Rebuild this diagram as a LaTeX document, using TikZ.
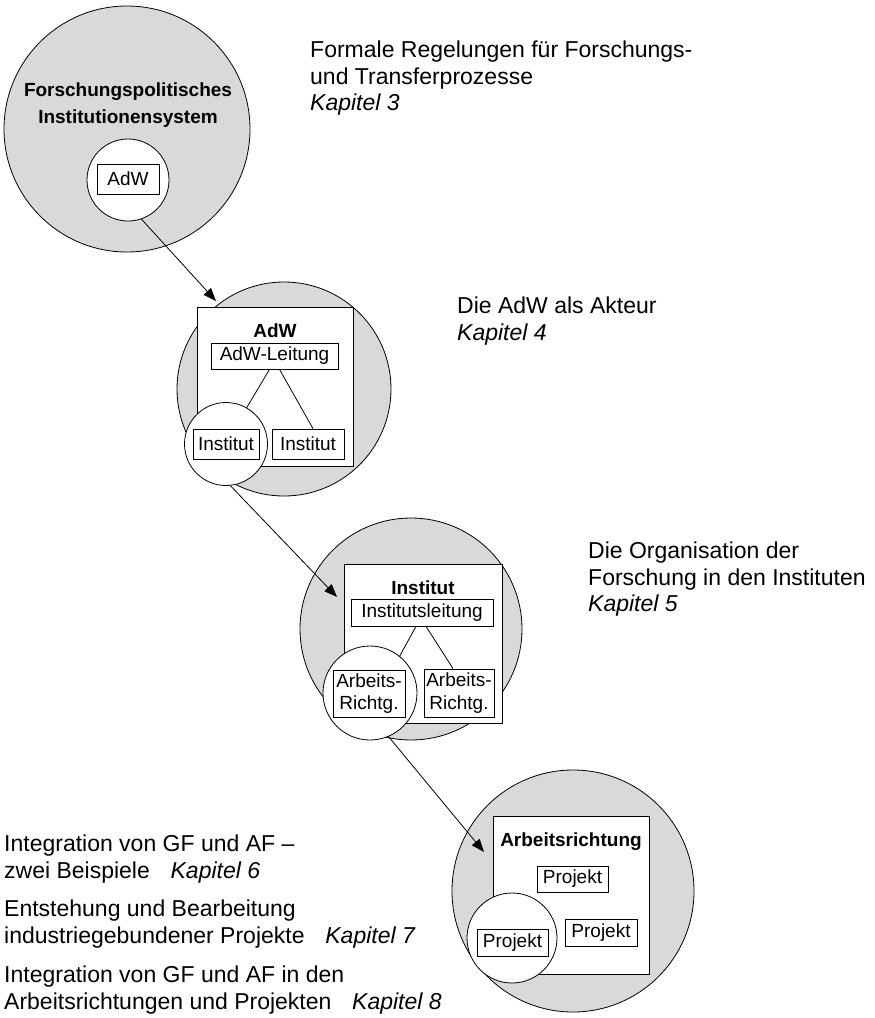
\documentclass[tikz,border=0pt]{standalone}
\usepackage{fontspec}
\setmainfont{Liberation Sans}
\usepackage{tikz}
\usetikzlibrary{arrows.meta}
\definecolor{ringgray}{gray}{0.85}
\tikzset{
  field/.style={circle, draw, line width=0.8pt, fill=ringgray, inner sep=0pt},
  focus/.style={circle, draw, line width=0.8pt, fill=white, inner sep=0pt},
  unit/.style={draw, line width=0.8pt, fill=white, inner sep=0pt},
  tag/.style={draw, line width=0.8pt, fill=white, inner sep=0pt, align=center, font=\fontsize{19}{22.5}\selectfont},
  head/.style={inner sep=0pt, align=center, font=\bfseries\fontsize{19}{27}\selectfont},
  note/.style={anchor=north west, align=left, inner sep=0pt, font=\fontsize{23}{26.5}\selectfont},
  link/.style={line width=0.8pt, -{Triangle[length=13pt, width=10pt]}}
}

\begin{document}
\begin{tikzpicture}[x=1pt, y=-1pt]
  \useasboundingbox (0,0) rectangle (875,1018);

  % grey level circles
  \node[field, minimum size=246pt] (sys) at (127,129) {};
  \node[field, minimum size=214pt] (acad) at (284,389) {};
  \node[field, minimum size=222pt] (inst) at (411,629) {};
  \node[field, minimum size=242pt] (dept) at (573,891) {};

  % white frames
  \node[unit, minimum width=156pt, minimum height=159pt] (acadbox) at (275,386.5) {};
  \node[unit, minimum width=158pt, minimum height=159pt] (instbox) at (423,643.5) {};
  \node[unit, minimum width=156pt, minimum height=158pt] (deptbox) at (571,895) {};

  \node[head] (syshead) at (128,105) {Forschungspolitisches\\Institutionensystem};
  \node[head] (acadhead) at (275,331) {AdW};
  \node[head] (insthead) at (423,588) {Institut};
  \node[head] (depthead) at (571,842) {Arbeitsrichtung};

  \node[tag, minimum width=127pt, minimum height=26pt] (acadlead) at (274.5,356) {AdW-Leitung};
  \node[tag, minimum width=142pt, minimum height=27pt] (instlead) at (422,612.5) {Institutsleitung};

  \node[tag, minimum width=72pt, minimum height=30pt] (instR) at (308,444) {Institut};
  \node[tag, minimum width=70pt, minimum height=48pt] (arbR) at (459,693) {Arbeits-\\Richtg.};

  % tree lines, the left ends run under the white circles
  \coordinate (instLtop) at (234,429);
  \coordinate (arbLtop) at (392,670);
  \draw[line width=0.8pt] ([xshift=-5pt]acadlead.south) -- (instLtop);
  \draw[line width=0.8pt] ([xshift=5pt]acadlead.south) -- ([xshift=5pt]instR.north);
  \draw[line width=0.8pt] ([xshift=-6pt]instlead.south) -- (arbLtop);
  \draw[line width=0.8pt] ([xshift=4pt]instlead.south) -- ([xshift=-6pt]arbR.north);

  % white focus circles
  \node[focus, minimum size=82pt] (f1) at (128,180) {};
  \node[focus, minimum size=83pt] (f2) at (226,444) {};
  \node[focus, minimum size=94pt] (f3) at (370,693) {};
  \node[focus, minimum size=90pt] (f4) at (512,938) {};

  \node[tag, minimum width=62pt, minimum height=30pt] (adw) at (128,179) {AdW};
  \node[tag, minimum width=66pt, minimum height=30pt] (instL) at (226,444) {Institut};
  \node[tag, minimum width=72pt, minimum height=47pt] (arbL) at (369,693.5) {Arbeits-\\Richtg.};
  \node[tag, minimum width=71pt, minimum height=26pt] (projT) at (572.5,879) {Projekt};
  \node[tag, minimum width=72pt, minimum height=27pt] (projR) at (601,932.5) {Projekt};
  \node[tag, minimum width=71pt, minimum height=27pt] (projL) at (512.5,942.5) {Projekt};

  % zoom arrows
  \coordinate (in2) at (216,301);
  \coordinate (in3) at (337,597);
  \coordinate (in4) at (484,852);
  \draw[link] (f1.-71) -- (in2);
  \draw[link] (f2.-84) -- (in3);
  \draw[link] (f3.-67) -- (in4);

  % chapter notes
  \node[note] (n3) at (310,41) {Formale Regelungen für Forschungs-\\und Transferprozesse\\\textit{Kapitel 3}};
  \node[note] (n4) at (457,297) {Die AdW als Akteur\\\textit{Kapitel 4}};
  \node[note] (n5) at (588,542) {Die Organisation der\\Forschung in den Instituten\\\textit{Kapitel 5}};
  \node[note] (n6) at (4,835) {Integration von GF und AF –\\zwei Beispiele\hspace{0.9em}\textit{Kapitel 6}};
  \node[note] (n7) at (4,900) {Entstehung und Bearbeitung\\industriegebundener Projekte\hspace{0.9em}\textit{Kapitel 7}};
  \node[note] (n8) at (4,966) {Integration von GF und AF in den\\Arbeitsrichtungen und Projekten\hspace{0.9em}\textit{Kapitel 8}};
\end{tikzpicture}
\end{document}
